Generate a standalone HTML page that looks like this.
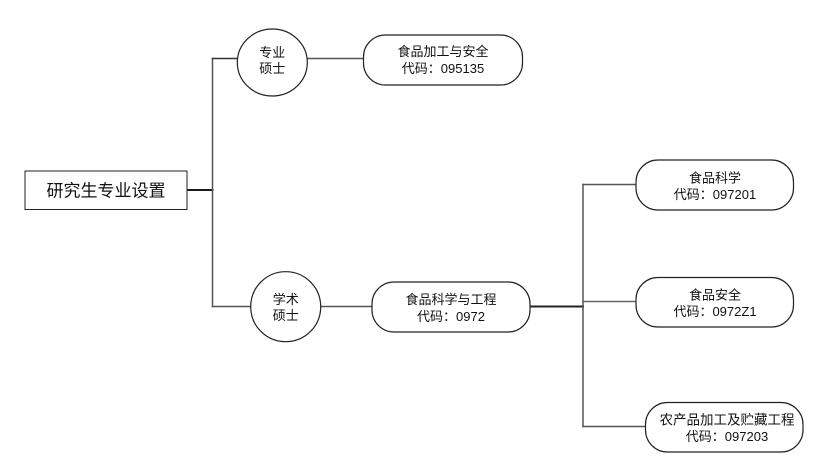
<!DOCTYPE html>
<html>
<head>
<meta charset="utf-8">
<style>
  html, body { margin: 0; padding: 0; background: #ffffff; }
  svg { display: block; }
  text { font-family: "Liberation Sans", "Noto Sans CJK SC", "WenQuanYi Zen Hei", sans-serif; fill: #111; }
</style>
</head>
<body>
<svg width="828" height="476" viewBox="0 0 828 476" xmlns="http://www.w3.org/2000/svg">
  <rect x="0" y="0" width="828" height="476" fill="#ffffff"/>

  <!-- connectors -->
  <g fill="none" stroke-linecap="square">
    <line x1="187" y1="190" x2="212.5" y2="190" stroke="#1a1a1a" stroke-width="2"/>
    <line x1="212.5" y1="58.5" x2="212.5" y2="306.5" stroke="#555" stroke-width="1.5"/>
    <line x1="212.5" y1="58.5" x2="237.5" y2="58.5" stroke="#333" stroke-width="1.5"/>
    <line x1="307" y1="58.5" x2="363" y2="58.5" stroke="#555" stroke-width="1.5"/>
    <line x1="212.5" y1="306.5" x2="251" y2="306.5" stroke="#555" stroke-width="1.5"/>
    <line x1="321" y1="306.5" x2="372" y2="306.5" stroke="#555" stroke-width="1.5"/>
    <line x1="530" y1="306.5" x2="583" y2="306.5" stroke="#222" stroke-width="2"/>
    <line x1="583" y1="184.5" x2="583" y2="426.5" stroke="#555" stroke-width="1.5"/>
    <line x1="583" y1="184.5" x2="636" y2="184.5" stroke="#555" stroke-width="1.5"/>
    <line x1="583" y1="301.5" x2="636" y2="301.5" stroke="#666" stroke-width="1.5"/>
    <line x1="583" y1="426.5" x2="645.5" y2="426.5" stroke="#555" stroke-width="1.5"/>
  </g>

  <!-- root -->
  <rect x="25" y="171" width="162" height="38.5" fill="#fff" stroke="#222" stroke-width="1"/>
  <text x="106" y="196.5" font-size="17" text-anchor="middle">研究生专业设置</text>

  <!-- circles -->
  <ellipse cx="272.3" cy="62.5" rx="35" ry="33.5" fill="#fff" stroke="#222" stroke-width="1.2"/>
  <text x="272.3" y="57" font-size="13" text-anchor="middle">专业</text>
  <text x="272.3" y="73" font-size="13" text-anchor="middle">硕士</text>

  <circle cx="285.7" cy="306.7" r="35" fill="#fff" stroke="#222" stroke-width="1.2"/>
  <text x="285.7" y="304" font-size="13" text-anchor="middle">学术</text>
  <text x="285.7" y="320" font-size="13" text-anchor="middle">硕士</text>

  <!-- rounded rects -->
  <rect x="363.5" y="35" width="159" height="50" rx="22" ry="22" fill="#fff" stroke="#222" stroke-width="1.2"/>
  <text x="443" y="56" font-size="13" text-anchor="middle">食品加工与安全</text>
  <text x="443" y="73" font-size="13" text-anchor="middle">代码：095135</text>

  <rect x="372" y="282" width="158" height="50" rx="22" ry="22" fill="#fff" stroke="#222" stroke-width="1.2"/>
  <text x="451" y="304" font-size="13" text-anchor="middle">食品科学与工程</text>
  <text x="451" y="321" font-size="13" text-anchor="middle">代码：0972</text>

  <rect x="636" y="160" width="157.5" height="50" rx="22" ry="22" fill="#fff" stroke="#222" stroke-width="1.2"/>
  <text x="715" y="182.5" font-size="13" text-anchor="middle">食品科学</text>
  <text x="715" y="199" font-size="13" text-anchor="middle">代码：097201</text>

  <rect x="636" y="277.5" width="157.5" height="49.5" rx="22" ry="22" fill="#fff" stroke="#222" stroke-width="1.2"/>
  <text x="715" y="299.5" font-size="13" text-anchor="middle">食品安全</text>
  <text x="715" y="316" font-size="13" text-anchor="middle">代码：0972Z1</text>

  <rect x="645.5" y="402.5" width="157.5" height="49.5" rx="22" ry="22" fill="#fff" stroke="#222" stroke-width="1.2"/>
  <text x="727" y="424.5" font-size="13.5" text-anchor="middle">农产品加工及贮藏工程</text>
  <text x="727" y="441" font-size="13" text-anchor="middle">代码：097203</text>
</svg>
</body>
</html>
